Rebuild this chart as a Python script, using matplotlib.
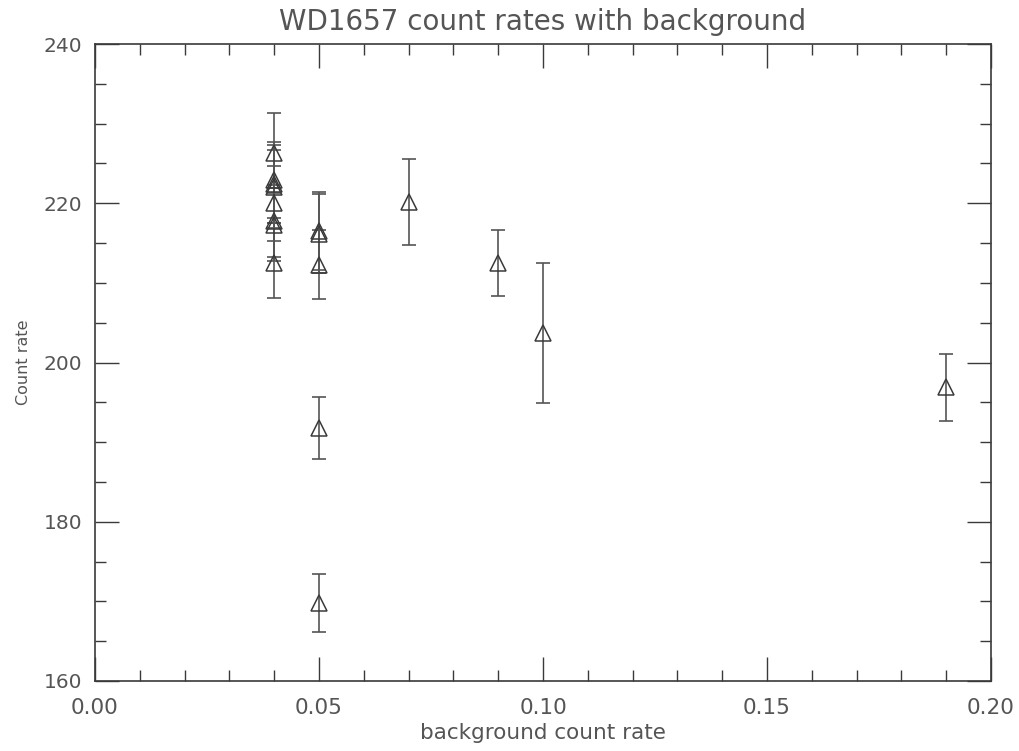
import numpy as np
import matplotlib
matplotlib.use('Agg')
import matplotlib.pyplot as plt
from matplotlib.ticker import MultipleLocator

# background count rate vs source count rate
bkg = [0.04, 0.04, 0.04, 0.04, 0.04, 0.04, 0.04, 0.04,
       0.05, 0.05, 0.05, 0.05, 0.05,
       0.07, 0.09, 0.10, 0.19]
rate = [226.3, 222.9, 222.4, 222.1, 220.0, 217.8, 217.3, 212.5,
        216.5, 216.2, 212.3, 191.8, 169.8,
        220.2, 212.5, 203.7, 196.9]
err = [5.0, 4.8, 4.9, 4.6, 4.7, 4.5, 4.6, 4.4,
       4.9, 4.9, 4.3, 3.9, 3.6,
       5.4, 4.1, 8.8, 4.2]

title = 'WD1657 count rates with background'
xlabel = 'background count rate'
ylabel = 'Count rate'

ink = '#3a3a3a'
txt = '#555555'
plt.rcParams['font.family'] = ['DejaVu Sans']

fig = plt.figure(figsize=(10.19, 7.51), dpi=100)
ax = fig.add_axes([95/1019, 70/751, 896/1019, 637/751])

ax.errorbar(bkg, rate, yerr=err, fmt='none', ecolor='#555555',
            elinewidth=1.2, capsize=5, capthick=1.2)
ax.plot(bkg, rate, linestyle='none', marker='^', markersize=12,
        markerfacecolor='none', markeredgecolor=ink, markeredgewidth=1.1)

ax.set_xlim(0.0, 0.20)
ax.set_ylim(160, 240)
ax.xaxis.set_major_locator(MultipleLocator(0.05))
ax.xaxis.set_minor_locator(MultipleLocator(0.01))
ax.yaxis.set_major_locator(MultipleLocator(20))
ax.yaxis.set_minor_locator(MultipleLocator(5))
ax.xaxis.set_major_formatter(matplotlib.ticker.FormatStrFormatter('%.2f'))

ax.tick_params(which='both', direction='in', top=True, right=True,
               color=ink, labelcolor=txt, labelsize=15.5, width=1)
ax.tick_params(which='major', length=17)
ax.tick_params(axis='x', which='major', pad=12)
ax.tick_params(axis='y', which='major', pad=9, labelsize=14.5)
ax.tick_params(which='minor', length=8)
for s in ax.spines.values():
    s.set_color(ink)
    s.set_linewidth(1.2)

ax.set_title(title, fontsize=20, color=txt, pad=10)
ax.set_xlabel(xlabel, fontsize=15.5, color=txt, labelpad=4)
ax.set_ylabel(ylabel, fontsize=11.5, color=txt, labelpad=9)

fig.savefig('out.png', dpi=100)
